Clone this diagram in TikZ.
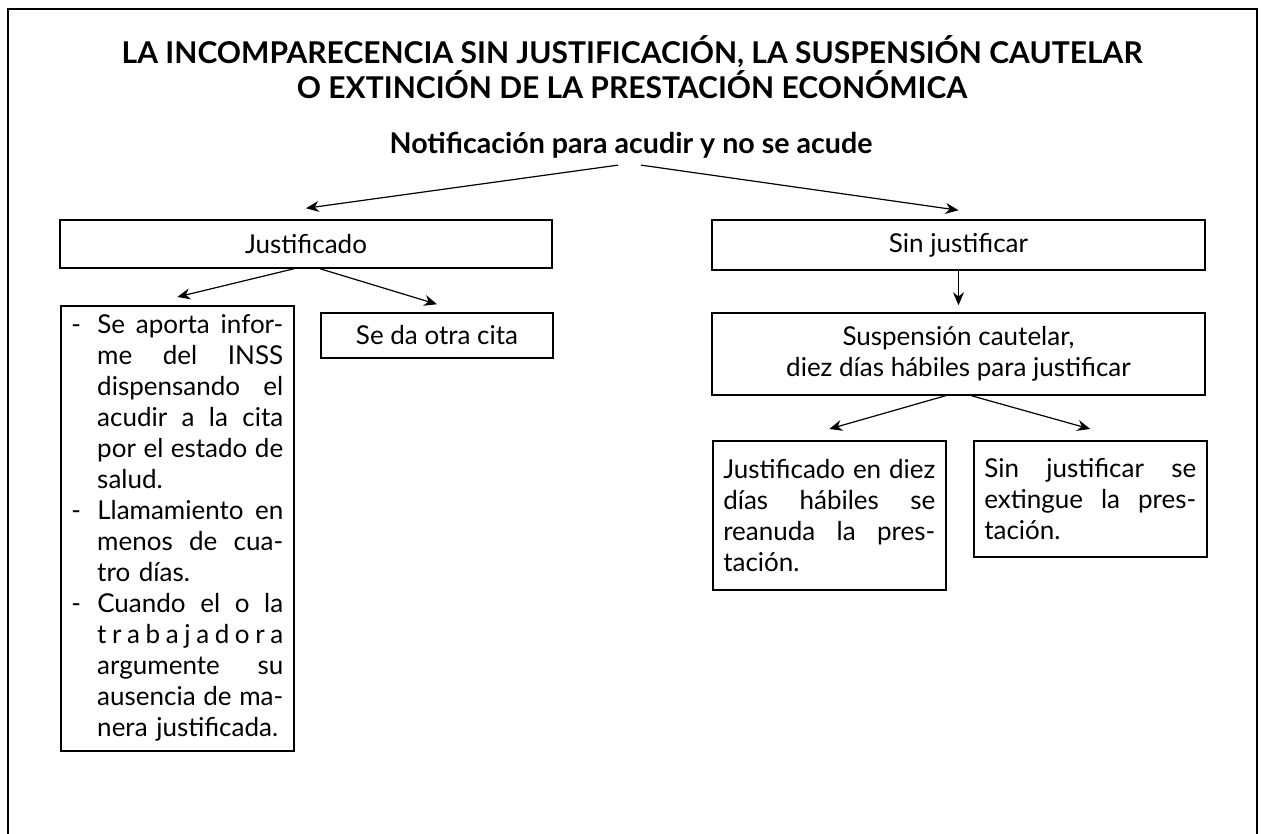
\documentclass[tikz,border=0pt]{standalone}
\usepackage{fontspec}
\setmainfont{Lato}
\usetikzlibrary{arrows.meta,positioning}

\tikzset{
  caja/.style={draw, line width=0.75pt, font=\fontsize{13}{15.5}\selectfont},
  parrafo/.style={caja, anchor=north west, align=left, text width=106pt, inner xsep=5.25pt},
  flecha/.style={-{Stealth[length=6.5pt,width=5.5pt]}, line width=0.6pt},
}
% lineas justificadas a mano (ancho de texto 106pt)
\newcommand{\llena}[1]{\leavevmode\hbox to 106pt{\spaceskip=0pt plus 1fil\relax #1}}
\newcommand{\guion}[1]{\leavevmode\makebox[13pt][l]{-}\hbox to 93pt{\spaceskip=0pt plus 1fil\relax #1}}
\newcommand{\sigue}[1]{\leavevmode\hspace*{13pt}\hbox to 93pt{\spaceskip=0pt plus 1fil\relax #1}}
\newcommand{\sigfin}[1]{\leavevmode\hspace*{13pt}#1}

\begin{document}
\begin{tikzpicture}[x=0.5pt,y=-0.5pt]
\useasboundingbox (0,0) rectangle (1262,834);
% marco abierto por abajo
\draw[line width=0.75pt] (8,834) -- (8,9) -- (1257,9) -- (1257,834);

\node[align=center, font=\bfseries\fontsize{15}{17.5}\selectfont] (titulo) at (632,67)
  {LA INCOMPARECENCIA SIN JUSTIFICACIÓN, LA SUSPENSIÓN CAUTELAR\\
   O EXTINCIÓN DE LA PRESTACIÓN ECONÓMICA};
\node[font=\bfseries\fontsize{14.3}{17}\selectfont] (notif) at (631,145)
  {Notificación para acudir y no se acude};

% primer nivel
\node[caja, minimum width=246pt, minimum height=24pt] (just) at (306,244) {Justificado};
\node[caja, minimum width=246.5pt, minimum height=25pt] (sinjust) at (958.5,245) {Sin justificar};

% rama justificada
\node[parrafo, minimum height=222.5pt] (lista) at (60,305)
  {\guion{Se aporta infor-}\\
   \sigue{me del INSS}\\
   \sigue{dispensando el}\\
   \sigue{acudir a la cita}\\
   \sigue{por el estado de}\\
   \sigfin{salud.}\\
   \guion{Llamamiento en}\\
   \sigue{menos de cua-}\\
   \sigfin{tro días.}\\
   \guion{Cuando el o la}\\
   \sigue{t r a b a j a d o r a}\\
   \sigue{argumente su}\\
   \sigue{ausencia de ma-}\\
   \sigfin{nera justificada.}};
\node[caja, minimum width=116pt, minimum height=22.5pt] (otra) at (437,335.5) {Se da otra cita};

% rama sin justificar
\node[caja, minimum width=246.5pt, minimum height=41pt, align=center] (susp) at (958.5,354)
  {Suspensión cautelar,\\ diez días hábiles para justificar};
\node[parrafo, minimum height=74.5pt] (reanuda) at (712,440)
  {\llena{Justificado en diez}\\
   \llena{días hábiles se}\\
   \llena{reanuda la pres-}\\
   tación.};
\node[parrafo, minimum height=58pt] (extingue) at (973,440)
  {\llena{Sin justificar se}\\
   \llena{extingue la pres-}\\
   tación.};

% flechas
\draw[flecha] ([xshift=-6.5pt]notif.south) -- ([yshift=5.5pt]just.north);
\draw[flecha] ([xshift=5pt]notif.south) -- ([yshift=4.5pt]sinjust.north);
\draw[flecha] ([xshift=-6pt]just.south) -- ([yshift=4pt]lista.north);
\draw[flecha] ([xshift=7pt]just.south) -- ([yshift=4pt]otra.north);
\draw[flecha] (sinjust.south) -- ([yshift=3.5pt]susp.north);
\draw[flecha] ([xshift=-6.5pt]susp.south) -- ([yshift=5.5pt]reanuda.north);
\draw[flecha] ([xshift=6.5pt]susp.south) -- ([yshift=5.5pt]extingue.north);
\end{tikzpicture}
\end{document}
